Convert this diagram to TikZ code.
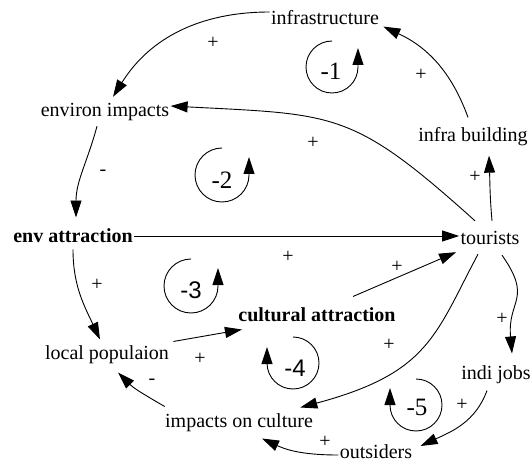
\documentclass[tikz,border=0pt]{standalone}
\usepackage{fontspec}
\setmainfont{Liberation Serif}
\newfontfamily\loopsans{Liberation Sans}
\usepackage{tikz}
\usetikzlibrary{arrows.meta}

\begin{document}
\begin{tikzpicture}[x=1pt,y=1pt,line width=0.9pt,>={Triangle[length=17pt,width=11pt]}]
\useasboundingbox (0,0) rectangle (530,464);
%\draw[gray] (0,0) rectangle (530,464);
\begin{scope}[every node/.style={inner sep=1pt,font=\fontsize{20}{24}\selectfont}]
    \node (infra) at (325,446) {infrastructure};
    \node (envimp) at (105,352) {environ impacts};
    \node (infrab) at (473,327) {infra building};
    \node (envattr) at (73,228) {\textbf{env attraction}};
    \node (tourists) at (490,226) {tourists};
    \node (cultattr) at (317,149) {\textbf{cultural attraction}};
    \node (localpop) at (107,109) {local populaion};
    \node (indijobs) at (496,89) {indi jobs};
    \node (impcult) at (239,41) {impacts on culture};
    \node (outsiders) at (376,12) {outsiders};

    % signs on the links
    \node (s1) at (213,421) {+};
    \node (s2) at (313,321) {+};
    \node (s3) at (103,291) {-};
    \node (s4) at (288,207) {+};
    \node (s5) at (475,287) {+};
    \node (s6) at (421,389) {+};
    \node (s7) at (97,179) {+};
    \node (s8) at (200,105) {+};
    \node (s9) at (397,197) {+};
    \node (s10) at (389,119) {+};
    \node (s11) at (502,145) {+};
    \node (s12) at (462,59) {+};
    \node (s13) at (325,22) {+};
    \node (s14) at (152,82) {-};

    \path [->] ([yshift=6pt]infra.west) edge[out=180,in=58] ([shift={(8,5)}]envimp.north);
    \path [->] ([shift={(-15,9)}]tourists.north) edge[out=138,in=-3,looseness=1.3] ([yshift=6pt]envimp.east);
    \path [->] ([shift={(-8,-4)}]envimp.south) edge[out=-105,in=90] ([shift={(3,10)}]envattr.north);
    \path [->] (envattr.east) edge (envattr.east -| tourists.west);
    \path [->] ([shift={(2,9)}]tourists.north) edge[out=95,in=-88] ([shift={(16,-8)}]infrab.south);
    \path [->] ([shift={(-5,9)}]infrab.north) edge[out=110,in=-25] ([xshift=3pt]infra.south east);
    \path [->] ([yshift=-5pt]envattr.south) edge[out=-90,in=115] ([shift={(-7,5)}]localpop.north);
    \path [->] ([shift={(3,3)}]localpop.north east) edge ([shift={(5,-6)}]cultattr.south west);
    \path [->] ([shift={(36,10)}]cultattr.north) edge ([shift={(-3,-6)}]tourists.south west);
    \path [->] ([shift={(-12,-8)}]tourists.south) edge[out=-118,in=15,in looseness=1.45] ([shift={(-14,5)}]impcult.north east);
    \path [->] ([shift={(12,-9)}]tourists.south) edge[out=-55,in=95,looseness=1.4] ([shift={(16,11)}]indijobs.north);
    \path [->] ([shift={(-9,-5)}]indijobs.south) edge[out=-110,in=25] ([shift={(7,6)}]outsiders.east);
    \path [->] ([yshift=-3pt]outsiders.west) edge[out=180,in=-25] ([shift={(23,-5)}]impcult.south);
    \path [->] ([shift={(1,6)}]impcult.north west) edge[out=150,in=-45] ([shift={(11,-7)}]localpop.south);
\end{scope}

% loops
\begin{scope}[every node/.style={inner sep=0pt,font=\fontsize{25}{28}\selectfont}]
    \node (l1) at (331,393) {-1};
    \node (l2) at (222,284) {-2};
    \node[font=\loopsans\fontsize{24}{28}\selectfont] (l3) at (191,174) {-3};
    \node[font=\loopsans\fontsize{24}{28}\selectfont] (l4) at (295,96) {-4};
    \node (l5) at (417,57) {-5};
\end{scope}
\draw[->] (332,423) arc[start angle=90,end angle=360,radius=26] -- ++(0,19);
\draw[->] (222,316) arc[start angle=90,end angle=360,radius=27] -- ++(0,18);
\draw[->] (191,205) arc[start angle=90,end angle=360,radius=27] -- ++(0,18);
\draw[->] (293,127) arc[start angle=90,end angle=-180,radius=26] -- ++(0,16);
\draw[->] (416,85) arc[start angle=90,end angle=-180,radius=26] -- ++(0,17);
\end{tikzpicture}
\end{document}
